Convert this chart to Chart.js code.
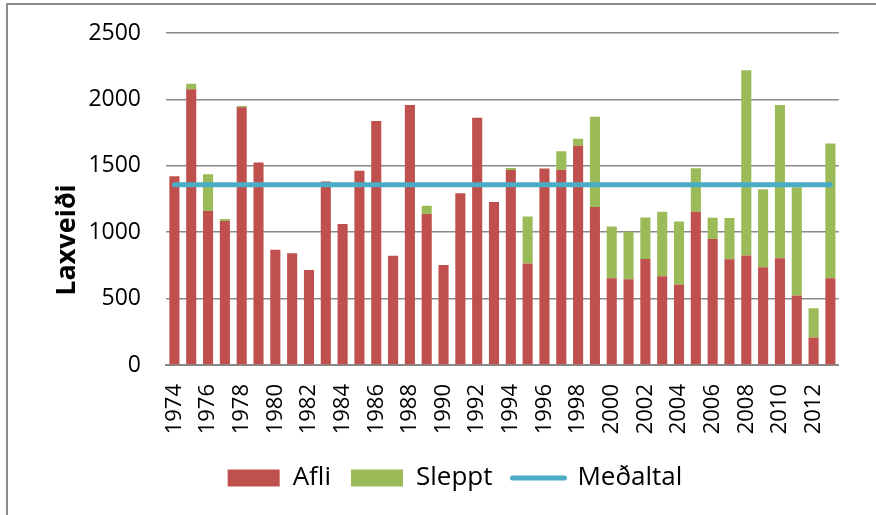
<!DOCTYPE html>
<html>
<head>
<meta charset="utf-8">
<script src="https://cdn.jsdelivr.net/npm/chart.js@4/dist/chart.umd.min.js"></script>
<style>
  html, body { margin: 0; padding: 0; background: #fff; }
  #wrap { position: relative; width: 876px; height: 515px; }
  #frame { position: absolute; left: 6px; top: 3px; right: 0; bottom: 0;
           border-left: 2px solid #8c8c8c; border-top: 2px solid #8c8c8c; pointer-events: none; }
  canvas { position: absolute; left: 0; top: 0; }
</style>
</head>
<body>
<div id="wrap">
  <canvas id="c" width="876" height="515"></canvas>
  <div id="frame"></div>
</div>
<script>
const years = ['1974','1975','1976','1977','1978','1979','1980','1981','1982','1983',
               '1984','1985','1986','1987','1988','1989','1990','1991','1992','1993',
               '1994','1995','1996','1997','1998','1999','2000','2001','2002','2003',
               '2004','2005','2006','2007','2008','2009','2010','2011','2012','2013'];

const afli = [1421, 2076, 1159, 1084, 1940, 1525, 867, 842, 716, 1381,
              1061, 1462, 1837, 822, 1958, 1137, 753, 1293, 1862, 1227,
              1469, 764, 1479, 1469, 1651, 1189, 653, 645, 799, 668,
              607, 1154, 948, 796, 824, 736, 804, 524, 207, 653];

const sleppt = [0, 41, 277, 15, 10, 0, 0, 0, 0, 0,
                0, 0, 0, 0, 0, 63, 0, 0, 0, 0,
                15, 355, 0, 141, 53, 681, 390, 358, 312, 486,
                474, 328, 161, 310, 1396, 587, 1154, 814, 221, 1015];

const medaltal = [1358, 1358, 1358, 1358, 1358, 1358, 1358, 1358, 1358, 1358,
                  1358, 1358, 1358, 1358, 1358, 1358, 1358, 1358, 1358, 1358,
                  1358, 1358, 1358, 1358, 1358, 1358, 1358, 1358, 1358, 1358,
                  1358, 1358, 1358, 1358, 1358, 1358, 1358, 1358, 1358, 1358];

const yTicks = [0, 500, 1000, 1500, 2000, 2500];
const seriesNames = ['Afli', 'Sleppt', 'Meðaltal'];
const yTitle = 'Laxveiði';

const FONT = 'Open Sans';
const RED = '#c0504d', GREEN = '#9bbb59', BLUE = '#4bacc6', GRID = '#898989';

const legendShift = {
  id: 'legendShift',
  afterLayout(chart) {
    const lg = chart.legend;
    if (lg) { lg.left += 25; lg.right += 25; }
  }
};

// Axis title drawn as real canvas text, placed like the reference (below plot centre)
const yTitlePlugin = {
  id: 'yTitlePlugin',
  afterDraw(chart) {
    const ctx = chart.ctx;
    ctx.save();
    ctx.translate(75, 240);
    ctx.rotate(-Math.PI / 2);
    ctx.font = 'bold 27px "' + FONT + '"';
    ctx.fillStyle = '#000';
    ctx.textAlign = 'center';
    ctx.textBaseline = 'alphabetic';
    ctx.fillText(yTitle, 0, 0);
    ctx.restore();
  }
};

new Chart(document.getElementById('c'), {
  data: {
    labels: years,
    datasets: [
      { type: 'bar', label: seriesNames[0], data: afli, backgroundColor: RED,
        stack: 'bars', order: 1, barPercentage: 0.6, categoryPercentage: 1.0,
        borderWidth: 0 },
      { type: 'bar', label: seriesNames[1], data: sleppt, backgroundColor: GREEN,
        stack: 'bars', order: 1, barPercentage: 0.6, categoryPercentage: 1.0,
        borderWidth: 0 },
      { type: 'line', label: seriesNames[2], data: medaltal, borderColor: BLUE,
        backgroundColor: BLUE, borderWidth: 5, pointRadius: 0, pointHoverRadius: 0,
        borderCapStyle: 'round', stack: 'avg', order: 0, tension: 0 }
    ]
  },
  plugins: [legendShift, yTitlePlugin],
  options: {
    responsive: false,
    animation: false,
    layout: { padding: { left: 0, right: 16, top: 33, bottom: 14 } },
    scales: {
      x: {
        stacked: true,
        grid: { display: false, drawTicks: false },
        border: { display: true, color: GRID, width: 2 },
        ticks: {
          autoSkip: false, maxRotation: 90, minRotation: 90, padding: 19,
          color: '#000', font: { family: FONT, size: 22 },
          callback: function(val, i) { return i % 2 === 0 ? years[i] : ''; }
        },
        afterFit: function(scale) { scale.height = 80; }
      },
      y: {
        stacked: true,
        min: 0, max: 2500,
        afterBuildTicks: function(scale) { scale.ticks = yTicks.map(v => ({ value: v })); },
        grid: { color: GRID, lineWidth: 1.5, drawTicks: false },
        border: { display: false },
        ticks: { padding: 25, color: '#000', font: { family: FONT, size: 23 },
                 callback: function(v) { return String(v); } },
        title: { display: false },
        afterFit: function(scale) {
          scale.width = 166;
          scale.paddingTop = 10;
          scale.paddingBottom = 10;
        }
      }
    },
    plugins: {
      tooltip: { enabled: false },
      legend: {
        position: 'bottom',
        labels: {
          color: '#000',
          font: { family: FONT, size: 26 },
          usePointStyle: true,
          pointStyleWidth: 52,
          boxHeight: 17,
          padding: 20,
          sort: (a, b) => a.datasetIndex - b.datasetIndex,
          generateLabels: function(chart) {
            const items = Chart.defaults.plugins.legend.labels.generateLabels(chart);
            items.forEach(it => {
              if (it.datasetIndex === 2) {
                it.pointStyle = 'line';
                it.strokeStyle = BLUE;
                it.lineWidth = 5;
                it.lineCap = 'round';
              } else {
                it.pointStyle = 'rect';
                it.lineWidth = 0;
                it.strokeStyle = it.fillStyle;
              }
            });
            return items;
          }
        }
      }
    }
  }
});
</script>
</body>
</html>
